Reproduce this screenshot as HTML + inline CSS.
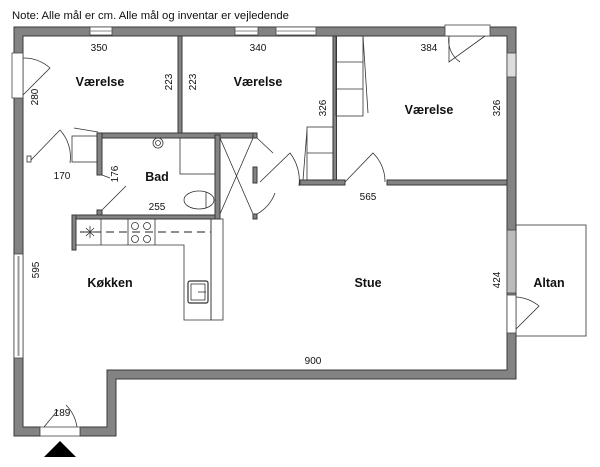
<!DOCTYPE html>
<html><head><meta charset="utf-8"><style>
html,body{margin:0;padding:0;background:#fff;}
svg{display:block;font-family:"Liberation Sans",sans-serif;}
.w{fill:#838383;stroke:#3a3a3a;stroke-width:1}
.l{fill:none;stroke:#333;stroke-width:0.8}
.t{font-size:10px;fill:#111;text-anchor:middle}
.b{font-size:12.5px;font-weight:bold;fill:#111;text-anchor:middle}
</style></head><body>
<svg width="600" height="467" viewBox="0 0 600 467">
<text x="12" y="19" style="font-size:11.3px;fill:#111">Note: Alle mål er cm. Alle mål og inventar er vejledende</text>
<path class="w" d="M14,27 H516 V379 H116 V436 H80 V427 H107 V370 H507 V36 H23 V427 H40 V436 H14 Z"/>
<rect x="90" y="27" width="22" height="8" fill="#fff" stroke="#444" stroke-width="0.8"/>
<line x1="90" y1="31" x2="112" y2="31" stroke="#888"/>
<rect x="235" y="27" width="23" height="8" fill="#fff" stroke="#444" stroke-width="0.8"/>
<line x1="235" y1="31" x2="258" y2="31" stroke="#888"/>
<rect x="276" y="27" width="40" height="8" fill="#fff" stroke="#444" stroke-width="0.8"/>
<line x1="276" y1="31" x2="316" y2="31" stroke="#888"/>
<rect x="445" y="25" width="45" height="11" fill="#fff" stroke="#444" stroke-width="0.8"/>
<path class="l" d="M449,36 V62 L485,36 M449,36 A26,26 0 0 0 460,62"/>
<rect x="507" y="53" width="9" height="24" fill="#ddd" stroke="#444" stroke-width="0.8"/>
<rect x="12" y="53" width="11" height="45" fill="#fff" stroke="#444" stroke-width="0.8"/>
<path class="l" d="M23,58 A40,40 0 0 1 50,68 L23,95"/>
<rect x="14" y="254" width="9" height="104" fill="#fff" stroke="#444" stroke-width="0.8"/>
<line x1="18.5" y1="256" x2="18.5" y2="356" stroke="#999" stroke-width="2"/>
<rect x="40" y="427" width="40" height="9" fill="#fff" stroke="#444" stroke-width="0.8"/>
<path class="l" d="M44,427 L58,410 M66,405 A40,40 0 0 1 77,427"/>
<polygon points="44,457 60,441 76,457" fill="#000"/>
<rect class="w" x="178" y="36" width="4" height="98"/>
<rect class="w" x="97" y="133" width="160" height="5"/>
<rect class="w" x="333" y="36" width="3.5" height="146"/>
<rect class="w" x="300" y="180" width="45" height="5"/>
<rect class="w" x="387" y="180" width="120" height="5"/>
<rect class="w" x="97" y="133" width="5" height="42"/>
<rect class="w" x="97" y="210" width="5" height="8"/>
<rect class="w" x="72" y="215" width="145" height="4"/>
<rect class="w" x="72" y="215" width="4" height="35"/>
<rect class="w" x="215" y="135" width="5" height="84"/>
<rect class="w" x="253" y="133" width="4" height="5"/>
<rect class="w" x="253" y="214" width="4" height="5"/>
<rect class="w" x="253" y="167" width="4" height="16"/>
<rect x="27" y="156" width="4" height="6" fill="#fff" stroke="#333" stroke-width="0.8"/>
<path class="l" d="M31,160 L60,130 M60,130 A40,40 0 0 1 70,163"/>
<rect class="l" x="72" y="136" width="25" height="26"/>
<line class="l" x1="74" y1="128" x2="98" y2="132"/>
<path class="l" d="M102,210 L126,186 M102,175 L110,178"/>
<circle class="l" cx="158" cy="143" r="5"/><circle class="l" cx="158" cy="143" r="2.5"/>
<rect class="l" x="180" y="138" width="35" height="36"/>
<ellipse class="l" cx="199" cy="200" rx="15" ry="9"/>
<line class="l" x1="206" y1="192" x2="206" y2="208"/>
<path class="l" d="M220,138 L253,214 M253,138 L220,214"/>
<path class="l" d="M257,138 L273,153 M260,182 L290,153 A45,45 0 0 1 299,186 M257,214 A40,40 0 0 0 275,193"/>
<rect class="l" x="336" y="36" width="27" height="80"/>
<line class="l" x1="336" y1="62" x2="363" y2="62"/><line class="l" x1="336" y1="89" x2="363" y2="89"/>
<line class="l" x1="363" y1="36" x2="368" y2="113"/>
<rect class="l" x="307" y="127" width="26" height="53"/>
<line class="l" x1="307" y1="153" x2="333" y2="153"/>
<line class="l" x1="307" y1="130" x2="303" y2="180"/>
<path class="l" d="M345,182 L373,153 A40,40 0 0 1 385,182"/>
<path class="l" d="M76,219 H211 V320 H184 V245 H76"/>
<rect class="l" x="211" y="219" width="12" height="101"/>
<line class="l" x1="101" y1="219" x2="101" y2="245"/>
<line class="l" x1="128" y1="219" x2="128" y2="245"/>
<line class="l" x1="155" y1="219" x2="155" y2="245"/>
<line x1="80" y1="232" x2="211" y2="232" stroke="#222" stroke-width="1" stroke-dasharray="8,5"/>
<path class="l" d="M84,232 H96 M90,226 V238 M86,228 L94,236 M94,228 L86,236"/>
<circle class="l" cx="135" cy="226" r="3.5"/><circle class="l" cx="147" cy="226" r="3.5"/>
<circle class="l" cx="135" cy="239" r="3.5"/><circle class="l" cx="147" cy="239" r="3.5"/>
<rect x="188" y="281" width="20" height="22" rx="2" fill="none" stroke="#333" stroke-width="1.2"/>
<rect class="l" x="191" y="284" width="14" height="16"/>
<line class="l" x1="198" y1="292" x2="206" y2="292"/>
<rect class="l" x="516" y="225" width="70" height="111"/>
<rect x="507" y="230" width="9" height="63" fill="#bbb" stroke="#444" stroke-width="0.8"/>
<rect x="507" y="295" width="9" height="38" fill="#fff" stroke="#444" stroke-width="0.8"/>
<path class="l" d="M516,297 A40,40 0 0 1 539,306 L516,329"/>
<text class="t" x="99" y="51">350</text>
<text class="t" x="258" y="51">340</text>
<text class="t" x="429" y="51">384</text>
<text class="b" x="100" y="86">Værelse</text>
<text class="b" x="258" y="86">Værelse</text>
<text class="b" x="429" y="114">Værelse</text>
<text class="t" transform="translate(172,82) rotate(-90)">223</text>
<text class="t" transform="translate(196,82) rotate(-90)">223</text>
<text class="t" transform="translate(38,97) rotate(-90)">280</text>
<text class="t" transform="translate(326,108) rotate(-90)">326</text>
<text class="t" transform="translate(500,108) rotate(-90)">326</text>
<text class="t" x="62" y="179">170</text>
<text class="t" transform="translate(118,174) rotate(-90)">176</text>
<text class="b" x="157" y="181">Bad</text>
<text class="t" x="157" y="210">255</text>
<text class="t" x="368" y="200">565</text>
<text class="t" transform="translate(39,270) rotate(-90)">595</text>
<text class="b" x="110" y="287">Køkken</text>
<text class="b" x="368" y="287">Stue</text>
<text class="t" transform="translate(500,280) rotate(-90)">424</text>
<text class="b" x="549" y="287">Altan</text>
<text class="t" x="313" y="364">900</text>
<text class="t" x="62" y="416">189</text>
</svg>
</body></html>
